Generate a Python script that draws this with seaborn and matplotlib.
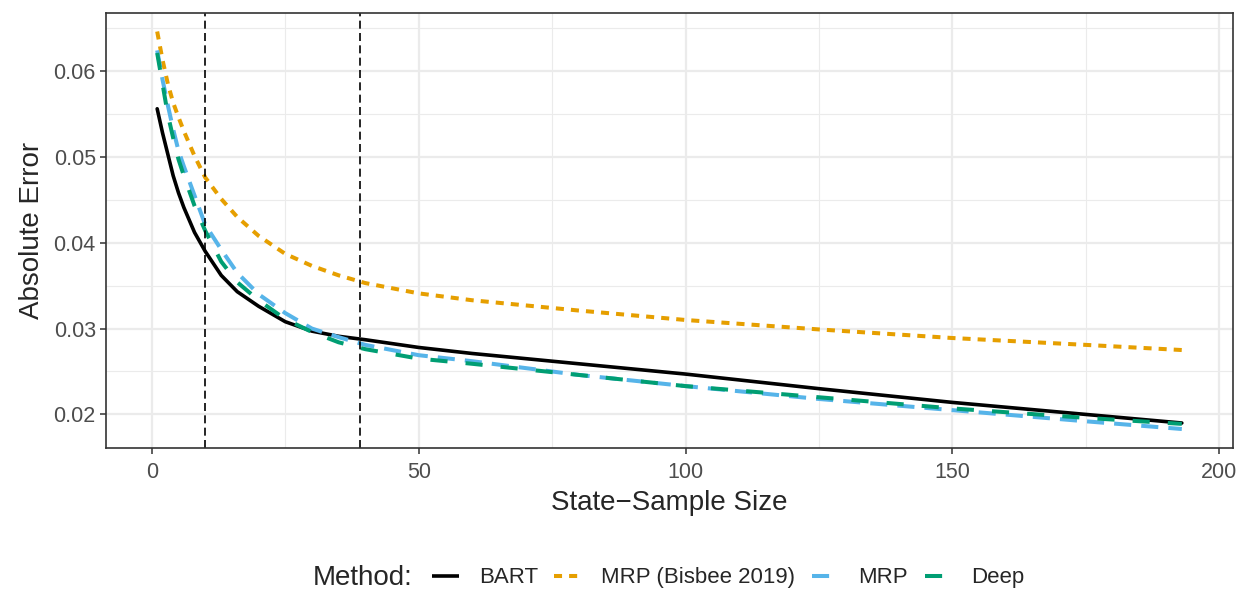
import pandas as pd
import matplotlib.pyplot as plt
import seaborn as sns
from matplotlib.ticker import MultipleLocator

# Data
sample_size = [1, 2, 3, 4, 5, 6, 8, 10, 13, 16, 20, 25, 30, 35, 40,
               50, 60, 80, 100, 125, 150, 175, 193]
bart = [0.0556, 0.0528, 0.0503, 0.0478, 0.0458, 0.0441, 0.0412, 0.0390, 0.0362,
        0.0343, 0.0326, 0.0308, 0.0297, 0.0291, 0.0287, 0.0278, 0.0271, 0.0259,
        0.0247, 0.0230, 0.0214, 0.0200, 0.0190]
mrp_bisbee = [0.0646, 0.0613, 0.0585, 0.0563, 0.0546, 0.0530, 0.0501, 0.0476, 0.0451,
              0.0430, 0.0408, 0.0387, 0.0373, 0.0362, 0.0353, 0.0341, 0.0333, 0.0321,
              0.0310, 0.0299, 0.0289, 0.0281, 0.0275]
mrp = [0.0624, 0.0590, 0.0560, 0.0532, 0.0507, 0.0489, 0.0455, 0.0421, 0.0392,
       0.0365, 0.0340, 0.0318, 0.0300, 0.0290, 0.0281, 0.0269, 0.0262, 0.0246,
       0.0233, 0.0218, 0.0205, 0.0192, 0.0183]
deep = [0.0621, 0.0585, 0.0549, 0.0522, 0.0497, 0.0478, 0.0443, 0.0414, 0.0378,
        0.0354, 0.0333, 0.0311, 0.0296, 0.0284, 0.0276, 0.0265, 0.0259, 0.0246,
        0.0233, 0.0220, 0.0207, 0.0196, 0.0189]
cutoffs = [10, 39]

methods = ['BART', 'MRP (Bisbee 2019)', 'MRP', 'Deep']
df = pd.concat([
    pd.DataFrame({'n': sample_size, 'err': vals, 'Method': m})
    for m, vals in zip(methods, [bart, mrp_bisbee, mrp, deep])
])

palette = {'BART': 'black', 'MRP (Bisbee 2019)': '#E69F00',
           'MRP': '#56B4E9', 'Deep': '#009E73'}
dashes = {'BART': '', 'MRP (Bisbee 2019)': (2.0, 1.75),
          'MRP': (4.25, 2.5), 'Deep': (4.25, 4.5)}
widths = {'BART': 2.6, 'MRP (Bisbee 2019)': 2.9, 'MRP': 2.9, 'Deep': 2.9}

sns.set_style('white')
plt.rcParams['font.family'] = ['Liberation Sans', 'DejaVu Sans']

fig = plt.figure(figsize=(12.42, 5.89), dpi=100)
ax = fig.add_axes([0.0853, 0.2394, 0.9075, 0.7386])

ax.grid(True, which='major', color='#EBEBEB', linewidth=1.6)
ax.grid(True, which='minor', color='#EBEBEB', linewidth=0.8)
ax.set_axisbelow(True)

sns.lineplot(data=df, x='n', y='err', hue='Method', style='Method',
             palette=palette, dashes=dashes, linewidth=2.9, ax=ax,
             legend=False)
for ln, m in zip(ax.lines, methods):
    ln.set_linewidth(widths[m])
    ln.set_dash_capstyle('butt')
    ln.set_solid_joinstyle('round')

for c in cutoffs:
    ax.axvline(c, color='black', linestyle=(0, (4.8, 2.6)), linewidth=1.2)

ax.set_xlim(-8.6, 202.6)
ax.set_ylim(0.01609, 0.06676)
ax.xaxis.set_major_locator(MultipleLocator(50))
ax.xaxis.set_minor_locator(MultipleLocator(25))
ax.yaxis.set_major_locator(MultipleLocator(0.01))
ax.yaxis.set_minor_locator(MultipleLocator(0.005))
ax.set_yticks([0.02, 0.03, 0.04, 0.05, 0.06])
ax.set_yticklabels(['0.02', '0.03', '0.04', '0.05', '0.06'])

ax.tick_params(axis='both', which='major', length=4.3, width=1.1, color='#333333',
               labelsize=15.5, labelcolor='#4D4D4D', pad=3, bottom=True, left=True)
ax.tick_params(axis='x', which='major', pad=5.5)
ax.tick_params(axis='both', which='minor', length=0)
for sp in ax.spines.values():
    sp.set_color('#333333')
    sp.set_linewidth(1.2)

ax.set_xlabel('State\u2212Sample Size', fontsize=20, labelpad=5)
ax.set_ylabel('Absolute Error', fontsize=20, labelpad=6)

# legend along the bottom with the title to the left
handles = []
for m in methods:
    if dashes[m]:
        h = plt.Line2D([], [], color=palette[m], linewidth=widths[m],
                       dashes=dashes[m], dash_capstyle='butt')
    else:
        h = plt.Line2D([], [], color=palette[m], linewidth=widths[m],
                       solid_capstyle='butt')
    handles.append(h)
fig.text(313 / 1242, 0.019, 'Method:', fontsize=20, va='center', ha='left')
fig.legend(handles, methods, loc='center left', bbox_to_anchor=(432 / 1242, 0.019),
           ncol=4, frameon=False, fontsize=16, handlelength=1.2,
           handletextpad=0.9, columnspacing=0.75, borderpad=0, borderaxespad=0)

fig.savefig('out.png', dpi=100)
